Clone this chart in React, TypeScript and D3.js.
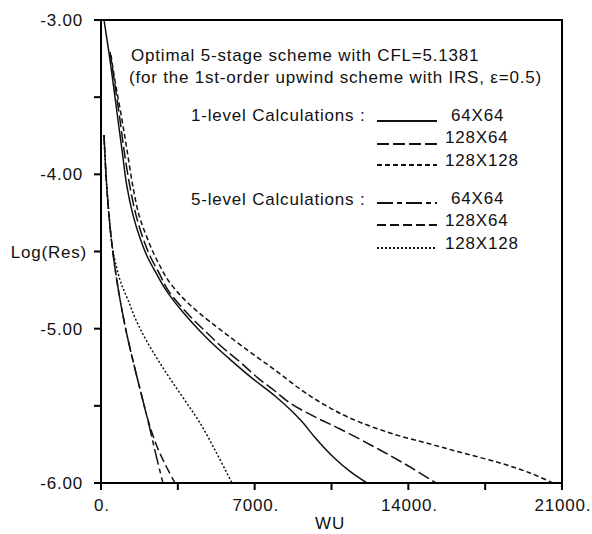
import React from "react";
import * as d3 from "d3";

const W = 592;
const H = 534;

const xTicksMajor = [0, 7000, 14000, 21000];
const xTickLabels = ["0.", "7000.", "14000.", "21000."];
const xTicksMinor = [3500, 10500, 17500];
const yTicksMajor = [-3, -4, -5, -6];
const yTickLabels = ["-3.00", "-4.00", "-5.00", "-6.00"];
const yTicksMinor = [-3.5, -4.5, -5.5];

// 1-level calculations  [WU, log10(Res)]
const oneLevel64x64: [number, number][] = [
  [137, -3.0], [410, -3.259], [774, -3.648], [957, -3.842], [1184, -4.082], [1458, -4.264],
  [1777, -4.413], [2095, -4.529], [2505, -4.639], [2961, -4.75], [3690, -4.886], [4419, -5.002],
  [5147, -5.106], [5967, -5.21], [6878, -5.32], [7926, -5.436], [8701, -5.535], [9202, -5.61],
  [9748, -5.705], [10568, -5.83], [11343, -5.925], [12117, -6.0],
];
const oneLevel128x64: [number, number][] = [
  [410, -3.207], [547, -3.337], [866, -3.648], [1048, -3.842], [1321, -4.082], [1594, -4.264],
  [1913, -4.413], [2232, -4.529], [2642, -4.639], [3052, -4.75], [3918, -4.899], [4646, -5.002],
  [5512, -5.119], [6332, -5.216], [7152, -5.32], [7926, -5.404], [8610, -5.482], [9748, -5.572],
  [10887, -5.65], [12709, -5.786], [14076, -5.896], [15260, -6.0],
];
const oneLevel128x128: [number, number][] = [
  [456, -3.227], [592, -3.356], [957, -3.648], [1184, -3.842], [1458, -4.082], [1731, -4.264],
  [2050, -4.393], [2369, -4.503], [2688, -4.594], [3052, -4.685], [3690, -4.795], [4419, -4.892],
  [5512, -5.015], [6787, -5.151], [7926, -5.268], [9065, -5.391], [10113, -5.488], [11343, -5.579],
  [13165, -5.676], [14987, -5.747], [16490, -5.806], [18176, -5.87], [19542, -5.935], [20590, -6.0],
];
// 5-level calculations
const fiveLevel64x64: [number, number][] = [
  [137, -3.745], [228, -4.004], [364, -4.264], [501, -4.458], [683, -4.652], [911, -4.847],
  [1184, -5.041], [1503, -5.235], [1822, -5.417], [2187, -5.624], [2505, -5.819], [2824, -6.0],
];
const fiveLevel128x64: [number, number][] = [
  [137, -3.745], [228, -4.004], [364, -4.264], [501, -4.458], [683, -4.652], [911, -4.847],
  [1184, -5.041], [1503, -5.235], [1822, -5.417], [2141, -5.592], [2505, -5.747], [2915, -5.877],
  [3371, -6.0],
];
const fiveLevel128x128: [number, number][] = [
  [137, -3.745], [228, -4.004], [364, -4.264], [501, -4.458], [683, -4.588], [911, -4.704],
  [1230, -4.814], [1594, -4.944], [2050, -5.073], [2597, -5.203], [3189, -5.333], [3872, -5.475],
  [4510, -5.611], [5239, -5.799], [5967, -6.0],
];

const seriesNames = ["64X64", "128X64", "128X128", "64X64", "128X64", "128X128"];
const seriesData = [oneLevel64x64, oneLevel128x64, oneLevel128x128, fiveLevel64x64, fiveLevel128x64, fiveLevel128x128];
const seriesDash = ["none", "12 4", "5 3", "16 4 5 4", "9 4", "2 2"];

const titleLines = [
  "Optimal 5-stage scheme with CFL=5.1381",
  "(for the 1st-order upwind scheme with IRS, \u03b5=0.5)",
];
const groupLabels = ["1-level Calculations :", "5-level Calculations :"];

export default function App() {
  const left = 101, right = 562, top = 20, bottom = 483;
  const x = d3.scaleLinear().domain([0, 21000]).range([left, right]);
  const y = d3.scaleLinear().domain([-3, -6]).range([top, bottom]);
  const line = d3
    .line<[number, number]>()
    .x((d) => x(d[0]))
    .y((d) => y(d[1]))
    .curve(d3.curveCatmullRom.alpha(0.5));

  const font = "'Liberation Sans', Arial, Helvetica, sans-serif";
  const fs = 17;
  const ls = 0.8;

  const legendRowsY = [121, 144, 165, 203, 225, 248];
  const textRowsY = [121, 143, 166, 204, 226, 249];

  return (
    <svg
      width={W}
      height={H}
      style={{ position: "fixed", left: 0, top: 0, background: "#fff" }}
      fontFamily={font}
      letterSpacing={ls}
    >
      <rect x={0} y={0} width={W} height={H} fill="#fff" />
      <defs>
        <clipPath id="plotclip">
          <rect x={left} y={top} width={right - left} height={bottom - top} />
        </clipPath>
      </defs>
      {/* curves */}
      <g clipPath="url(#plotclip)">
        {seriesData.map((d, i) => (
          <path
            key={i}
            d={line(d) || ""}
            fill="none"
            stroke="#111"
            strokeWidth={1.5}
            strokeDasharray={seriesDash[i]}
          />
        ))}
      </g>
      {/* frame */}
      <rect x={left} y={top} width={right - left} height={bottom - top} fill="none" stroke="#000" strokeWidth={2} />
      {/* y ticks */}
      {yTicksMajor.map((t, i) => (
        <g key={"y" + i}>
          <line x1={left - 7} x2={left} y1={y(t)} y2={y(t)} stroke="#000" strokeWidth={2} />
          <text x={83} y={y(t) + 6} textAnchor="end" fontSize={fs} fill="#111">
            {yTickLabels[i]}
          </text>
        </g>
      ))}
      {yTicksMinor.map((t, i) => (
        <line key={"ym" + i} x1={left - 7} x2={left} y1={y(t)} y2={y(t)} stroke="#000" strokeWidth={2} />
      ))}
      <text x={87} y={y(-4.5) + 6} textAnchor="end" fontSize={fs} fill="#111">
        Log(Res)
      </text>
      {/* x ticks */}
      {xTicksMajor.map((t, i) => (
        <g key={"x" + i}>
          <line x1={x(t)} x2={x(t)} y1={bottom} y2={bottom + 7} stroke="#000" strokeWidth={2} />
          <text x={x(t) + 1} y={511} textAnchor="middle" fontSize={fs} fill="#111">
            {xTickLabels[i]}
          </text>
        </g>
      ))}
      {xTicksMinor.map((t, i) => (
        <line key={"xm" + i} x1={x(t)} x2={x(t)} y1={bottom} y2={bottom + 7} stroke="#000" strokeWidth={2} />
      ))}
      <text x={330} y={529} textAnchor="middle" fontSize={fs} fill="#111">
        WU
      </text>
      {/* title */}
      <text x={131} y={61} fontSize={fs} fill="#111">{titleLines[0]}</text>
      <text x={129} y={83} fontSize={fs} fill="#111">{titleLines[1]}</text>
      <text x={191} y={121} fontSize={fs} fill="#111">{groupLabels[0]}</text>
      <text x={191} y={205} fontSize={fs} fill="#111">{groupLabels[1]}</text>
      {/* legend */}
      {seriesNames.map((n, i) => (
        <g key={"lg" + i}>
          <line
            x1={377}
            x2={437}
            y1={legendRowsY[i]}
            y2={legendRowsY[i]}
            stroke="#111"
            strokeWidth={1.8}
            strokeDasharray={seriesDash[i]}
          />
          <text x={n === "64X64" ? 451 : 445} y={textRowsY[i]} fontSize={fs} fill="#111">
            {n}
          </text>
        </g>
      ))}
    </svg>
  );
}
